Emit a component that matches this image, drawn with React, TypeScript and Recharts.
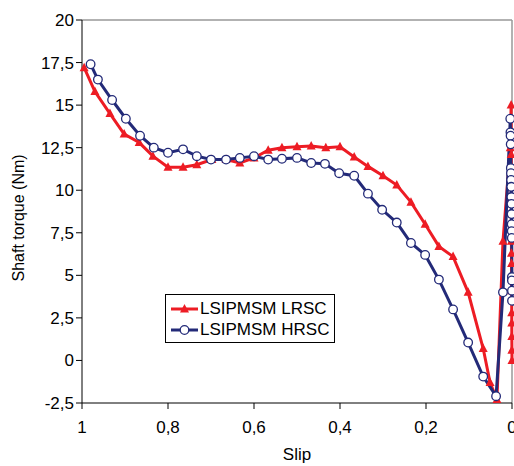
import { Line, LineChart, ReferenceLine, XAxis, YAxis } from 'recharts'

// LSIPMSM LRSC (red, triangles)
const lrscSlip = [
  0.995, 0.97, 0.935, 0.902, 0.867, 0.835, 0.8, 0.765, 0.733, 0.698, 0.665, 0.633, 0.6, 0.567,
  0.535, 0.5, 0.467, 0.433, 0.4, 0.367, 0.335, 0.3, 0.268, 0.235, 0.202, 0.17, 0.137, 0.102,
  0.067, 0.051, 0.035, 0.021, 0.004, 0.002, 0.0018, 0.0016, 0.0014, 0.0012, 0.001, 0.0009,
  0.0008, 0.0006, 0.0005, 0.0004, 0.0002, 0,
]
const lrscTorque = [
  17.2, 15.8, 14.5, 13.3, 12.8, 12.0, 11.35, 11.35, 11.5, 11.8, 11.8, 11.6, 11.9, 12.35,
  12.5, 12.55, 12.6, 12.5, 12.55, 11.95, 11.4, 10.85, 10.3, 9.3, 8.0, 6.7, 6.1, 4.0,
  0.7, -1.3, -2.3, 7.0, 12.5, 15.0, 12.1, 9.5, 7.0, 6.3, 5.7, 4.9,
  4.1, 2.8, 2.2, 1.4, 0.6, 0,
]

// LSIPMSM HRSC (navy, open circles)
const hrscSlip = [
  0.98, 0.963, 0.93, 0.898, 0.865, 0.833, 0.8, 0.765, 0.733, 0.7, 0.665, 0.633, 0.6, 0.567,
  0.535, 0.5, 0.467, 0.435, 0.402, 0.367, 0.335, 0.302, 0.268, 0.235, 0.202, 0.17, 0.137,
  0.102, 0.067, 0.037, 0.021, 0.004, 0.0036, 0.0033, 0.003, 0.0027, 0.0024, 0.0021, 0.0018,
  0.0015, 0.0012, 0.001, 0.0008, 0.0006, 0.0005, 0.0003, 0.0002, 0.0001, 0,
]
const hrscTorque = [
  17.4, 16.5, 15.3, 14.2, 13.2, 12.5, 12.2, 12.4, 12.0, 11.8, 11.8, 11.9, 12.0, 11.8,
  11.85, 11.9, 11.6, 11.55, 11.0, 10.85, 9.8, 8.85, 8.1, 6.9, 6.2, 4.75, 3.0,
  1.05, -0.95, -2.1, 4.0, 14.2, 13.4, 13.2, 12.7, 11.3, 11.0, 10.6, 10.2,
  9.6, 9.2, 8.6, 8.0, 7.6, 7.2, 4.9, 4.7, 4.1, 3.5,
]

const xTicks = [0, 0.2, 0.4, 0.6, 0.8, 1]
const yTicks = [-2.5, 0, 2.5, 5, 7.5, 10, 12.5, 15, 17.5, 20]

const RED = '#ed1c24'
const NAVY = '#232a78'
const FONT = 'Arial, "Liberation Sans", sans-serif'

const lrscData = lrscSlip.map((s, i) => ({ s, t: lrscTorque[i] }))
const hrscData = hrscSlip.map((s, i) => ({ s, t: hrscTorque[i] }))

const fmt = (v: number) => String(v).replace('.', ',')

const TriangleDot = (props: any) => {
  const { cx, cy } = props
  if (cx == null || cy == null) return <g key={props.index} />
  return (
    <path
      key={props.index}
      d={`M${cx},${cy - 5} L${cx + 4.5},${cy + 3.5} L${cx - 4.5},${cy + 3.5} Z`}
      fill={RED}
    />
  )
}

const CircleDot = (props: any) => {
  const { cx, cy } = props
  if (cx == null || cy == null) return <g key={props.index} />
  return <circle key={props.index} cx={cx} cy={cy} r={4.3} fill="#fff" stroke={NAVY} strokeWidth={1.3} />
}

// legend drawn as an overlay box, like the spreadsheet original
const LegendBox = () => (
  <div
    style={{
      position: 'absolute',
      left: 165,
      top: 294,
      border: '1px solid #000',
      background: '#fff',
      width: 170,
      height: 49,
      padding: '3px 0 0 5px',
      fontFamily: FONT,
      fontSize: 17,
      lineHeight: '21px',
      color: '#000',
      boxSizing: 'border-box',
    }}
  >
    <div style={{ display: 'flex', alignItems: 'center' }}>
      <svg width={27} height={12} style={{ marginRight: 2 }}>
        <line x1={0} y1={6} x2={27} y2={6} stroke={RED} strokeWidth={3} />
        <path d="M13.5,1 L18,9.5 L9,9.5 Z" fill={RED} />
      </svg>
      <span>LSIPMSM LRSC</span>
    </div>
    <div style={{ display: 'flex', alignItems: 'center' }}>
      <svg width={27} height={12} style={{ marginRight: 2 }}>
        <line x1={0} y1={6} x2={27} y2={6} stroke={NAVY} strokeWidth={3} />
        <circle cx={13.5} cy={6} r={4.3} fill="#fff" stroke={NAVY} strokeWidth={1.3} />
      </svg>
      <span>LSIPMSM HRSC</span>
    </div>
  </div>
)

export default function App() {
  return (
    <div style={{ position: 'absolute', left: 0, top: 0, width: 514, height: 466, background: '#fff' }}>
      <LineChart width={514} height={466} margin={{ top: 20, right: 2, bottom: 6, left: 22 }}>
        <XAxis
          type="number"
          dataKey="s"
          domain={[0, 1]}
          reversed
          ticks={xTicks}
          interval={0}
          tickFormatter={fmt}
          stroke="#000"
          tick={{ fill: '#000', fontSize: 17, fontFamily: FONT }}
          tickSize={6}
          tickMargin={12}
          height={57}
          label={{ value: 'Slip', position: 'insideBottom', offset: 0, fill: '#000', fontSize: 17, fontFamily: FONT }}
        />
        <YAxis
          type="number"
          dataKey="t"
          domain={[-2.5, 20]}
          ticks={yTicks}
          interval={0}
          tickFormatter={fmt}
          allowDataOverflow
          stroke="#000"
          tick={{ fill: '#000', fontSize: 17, fontFamily: FONT }}
          tickSize={6}
          width={60}
          label={{
            value: 'Shaft torque (Nm)',
            angle: -90,
            position: 'insideLeft',
            offset: -4,
            dy: 70,
            fill: '#000',
            fontSize: 16,
            fontFamily: FONT,
          }}
        />
        <ReferenceLine y={20} stroke="#999" strokeWidth={1.5} />
        <ReferenceLine x={0} stroke="#999" strokeWidth={1.5} />
        <Line
          data={lrscData}
          dataKey="t"
          name="LSIPMSM LRSC"
          stroke={RED}
          strokeWidth={3}
          dot={TriangleDot}
          activeDot={false}
          isAnimationActive={false}
        />
        <Line
          data={hrscData}
          dataKey="t"
          name="LSIPMSM HRSC"
          stroke={NAVY}
          strokeWidth={3}
          dot={CircleDot}
          activeDot={false}
          isAnimationActive={false}
        />
      </LineChart>
      <LegendBox />
    </div>
  )
}
